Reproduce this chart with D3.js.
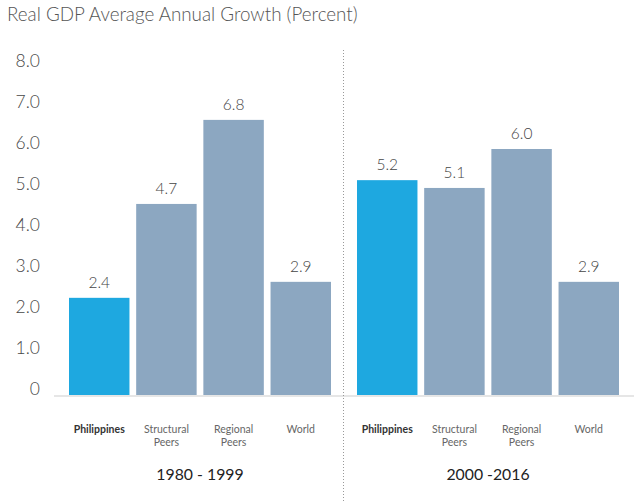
<!DOCTYPE html>
<html>
<head>
<meta charset="utf-8">
<script src="https://cdn.jsdelivr.net/npm/d3@7"></script>
<style>
  html, body { margin: 0; padding: 0; background: #fff; }
  svg { display: block; font-family: Lato, "Open Sans", sans-serif; }
</style>
</head>
<body>
<svg id="chart" width="634" height="503"></svg>
<script>
// ---- data ----
const categories = ["Philippines", "Structural Peers", "Regional Peers", "World"];
const periods = ["1980 - 1999", "2000 -2016"];
// bar heights as drawn in the picture
const growth1980_1999 = [2.37, 4.66, 6.71, 2.76];
const growth2000_2016 = [5.24, 5.05, 6.0, 2.76];
// value labels as printed
const labels1980_1999 = ["2.4", "4.7", "6.8", "2.9"];
const labels2000_2016 = ["5.2", "5.1", "6.0", "2.9"];
const yTicks = [0, 1, 2, 3, 4, 5, 6, 7, 8];
const title = "Real GDP Average Annual Growth (Percent)";

const panels = [
  { period: periods[0], values: growth1980_1999, labels: labels1980_1999, range: [69, 331] },
  { period: periods[1], values: growth2000_2016, labels: labels2000_2016, range: [357, 619] }
];

const svg = d3.select("#chart");
const y = d3.scaleLinear().domain([0, 8]).range([395, 67]);

// title
svg.append("text")
  .attr("x", 7).attr("y", 21)
  .attr("font-size", 18.8).attr("font-weight", 300)
  .attr("fill", "#555")
  .text(title);

// y axis
const yAxis = d3.axisLeft(y).tickValues(yTicks).tickSize(0).tickPadding(0)
  .tickFormat(d => d === 0 ? "0" : d3.format(".1f")(d));
const ga = svg.append("g").attr("transform", "translate(40,0)").call(yAxis);
ga.select(".domain").remove();
ga.selectAll("text")
  .attr("font-family", "Lato, 'Open Sans', sans-serif")
  .attr("font-size", 17.5).attr("font-weight", 300)
  .attr("fill", "#474747")
  .attr("dy", "-0.05em");

// baseline
svg.append("rect")
  .attr("x", 54).attr("y", y(0)).attr("width", 580).attr("height", 2)
  .attr("fill", "#e6e6e6");

// divider
svg.append("line")
  .attr("x1", 343.5).attr("x2", 343.5).attr("y1", 50).attr("y2", 503)
  .attr("stroke", "#999").attr("stroke-width", 1)
  .attr("stroke-dasharray", "1,2");

panels.forEach(p => {
  const x = d3.scaleBand().domain(categories).range(p.range).paddingInner(0.1).paddingOuter(0);
  const g = svg.append("g");
  const data = categories.map((c, i) => ({ c, v: p.values[i], l: p.labels[i], i }));

  g.selectAll("rect.bar").data(data).join("rect")
    .attr("class", "bar")
    .attr("x", d => x(d.c)).attr("width", x.bandwidth())
    .attr("y", d => y(d.v)).attr("height", d => y(0) - y(d.v))
    .attr("fill", d => d.i === 0 ? "#1ea8e0" : "#8ca7c1");

  g.selectAll("text.val").data(data).join("text")
    .attr("class", "val")
    .attr("x", d => x(d.c) + x.bandwidth() / 2)
    .attr("y", d => y(d.v) - 10)
    .attr("text-anchor", "middle")
    .attr("font-size", 15.5).attr("font-weight", 300)
    .attr("fill", "#444")
    .text(d => d.l);

  // category labels
  data.forEach(d => {
    const words = d.c.split(" ");
    const t = g.append("text")
      .attr("x", x(d.c) + x.bandwidth() / 2)
      .attr("y", 433)
      .attr("text-anchor", "middle")
      .attr("font-size", 10.5)
      .attr("font-weight", d.i === 0 ? 700 : 400)
      .attr("fill", d.i === 0 ? "#333" : "#666");
    words.forEach((w, k) => {
      t.append("tspan").attr("x", x(d.c) + x.bandwidth() / 2)
        .attr("dy", k === 0 ? 0 : 13).text(w);
    });
  });

  // period label
  g.append("text")
    .attr("x", (p.range[0] + p.range[1]) / 2)
    .attr("y", 480)
    .attr("text-anchor", "middle")
    .attr("font-size", 15.8)
    .attr("fill", "#222")
    .text(p.period);
});
</script>
</body>
</html>
